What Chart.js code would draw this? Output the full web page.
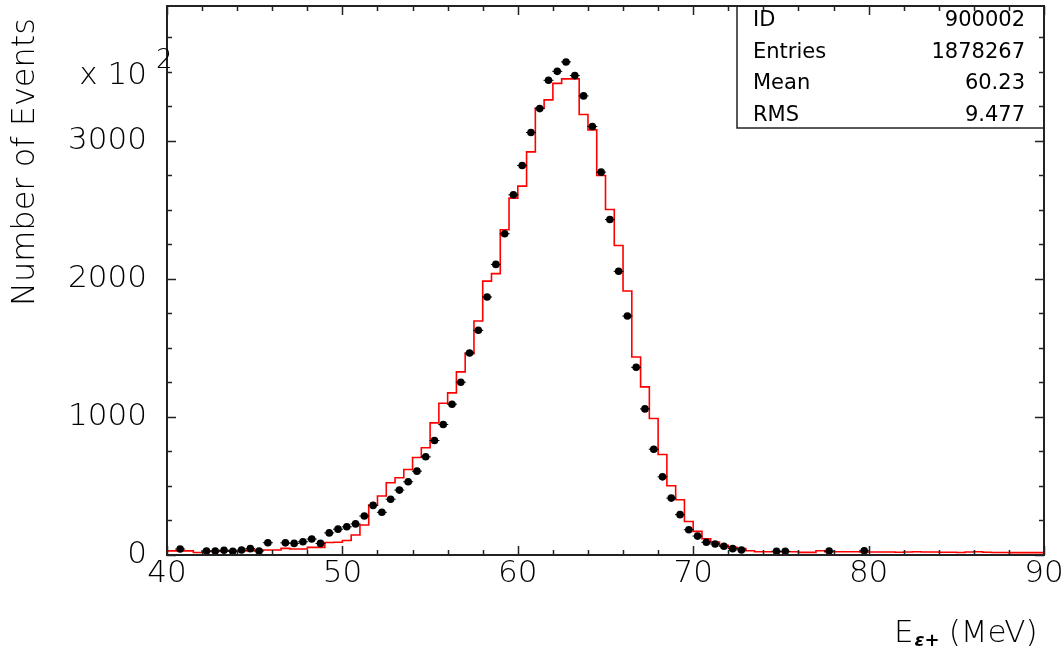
<!DOCTYPE html>
<html>
<head>
<meta charset="utf-8">
<script src="https://cdn.jsdelivr.net/npm/chart.js@4.4.1/dist/chart.umd.min.js"></script>
<style>
  html, body { margin: 0; padding: 0; background: #fff; }
  #wrap { width: 1062px; height: 654px; }
</style>
</head>
<body>
<div id="wrap"><canvas id="hist" width="1062" height="654"></canvas></div>
<script>
// histogram binning (E in MeV)
const binStart = 40;
const binWidth = 0.5;
const binCount = 100;

// data points (black), null = empty bin
const dataCounts = [
  null, 43, null, null, 29, 29, 34, 27, 36, 46,
  29, 89, null, 88, 84, 96, 116, 84, 160, 187,
  204, 225, 282, 359, 309, 404, 470, 530, 607, 711,
  829, 945, 1092, 1251, 1463, 1627, 1868, 2104, 2326, 2608,
  2820, 3059, 3232, 3437, 3502, 3570, 3471, 3324, 3102, 2772,
  2429, 2054, 1730, 1359, 1058, 766, 566, 412, 292, 183,
  137, 92, 80, 63, 46, 36, null, null, null, 27,
  27, null, null, null, null, 29, null, null, null, 31,
  null, null, null, null, null, null, null, null, null, null,
  null, null, null, null, null, null, null, null, null, null
];

// simulation (red histogram)
const mcCounts = [
  30, 30, 30, 18, 25, 25, 28, 28, 30, 32,
  36, 36, 36, 48, 43, 43, 55, 55, 90, 92,
  105, 145, 217, 361, 427, 523, 559, 619, 706, 776,
  957, 1099, 1174, 1326, 1458, 1694, 1983, 2037, 2355, 2584,
  2671, 2919, 3237, 3295, 3415, 3447, 3447, 3189, 3078, 2748,
  2502, 2241, 1911, 1434, 1217, 988, 728, 501, 400, 243,
  171, 118, 94, 70, 56, 46, 31, 24, 24, 24,
  24, 24, 19, 19, 31, 24, 24, 24, 24, 22,
  22, 22, 22, 20, 22, 24, 22, 22, 20, 20,
  18, 22, 24, 20, 18, 18, 17, 17, 17, 17
];

const xTicks = [40, 50, 60, 70, 80, 90];
const yTicks = [0, 1000, 2000, 3000];
const statsLabels = ['ID', 'Entries', 'Mean', 'RMS'];
const statsValues = ['900002', '1878267', '60.23', '9.477'];

const FONT = 'DejaVu Sans';
const INK = '#000';

const stepPts = [];
for (let i = 0; i < binCount; i++) {
  stepPts.push({ x: binStart + i * binWidth, y: mcCounts[i] });
}
stepPts.push({ x: binStart + binCount * binWidth, y: mcCounts[binCount - 1] });

const dotPts = [];
for (let i = 0; i < binCount; i++) {
  if (dataCounts[i] !== null) {
    dotPts.push({ x: binStart + (i + 0.5) * binWidth, y: dataCounts[i] });
  }
}

// frame, inward ticks, titles, stats box
const decorations = {
  id: 'decorations',
  afterDraw(chart) {
    const ctx = chart.ctx;
    const xs = chart.scales.x;
    const ys = chart.scales.y;
    const area = chart.chartArea;
    const L = area.left, R = area.right, T = area.top, B = area.bottom;

    ctx.save();
    ctx.strokeStyle = '#222';
    ctx.lineWidth = 1.5;
    ctx.beginPath();
    for (let v = 40; v <= 90; v += 2) {
      const px = Math.round(xs.getPixelForValue(v)) + 0.5;
      const len = (v % 10 === 0) ? 9 : 5;
      ctx.moveTo(px, B); ctx.lineTo(px, B - len);
      ctx.moveTo(px, T); ctx.lineTo(px, T + len);
    }
    for (let v = 0; v <= 3750; v += 250) {
      const py = Math.round(ys.getPixelForValue(v)) + 0.5;
      const len = (v % 1000 === 0) ? 9 : 5;
      ctx.moveTo(L, py); ctx.lineTo(L + len, py);
      ctx.moveTo(R, py); ctx.lineTo(R - len, py);
    }
    ctx.stroke();

    ctx.lineWidth = 2;
    ctx.strokeRect(L, T, R - L, B - T);

    // stats box
    const bx = 737;
    ctx.lineWidth = 1.5;
    ctx.strokeRect(bx, T, R - bx, 122);
    ctx.fillStyle = INK;
    ctx.font = '21px "' + FONT + '"';
    ctx.textBaseline = 'middle';
    statsLabels.forEach((lab, i) => {
      const yy = 21 + i * 31.5;
      ctx.textAlign = 'left';
      ctx.fillText(lab, bx + 16, yy);
      ctx.textAlign = 'right';
      ctx.fillText(statsValues[i], R - 19, yy);
    });

    // exponent label
    ctx.font = '200 31px "' + FONT + '"';
    ctx.textAlign = 'right';
    ctx.fillText('x 10', 147, 76);
    ctx.font = '200 26px "' + FONT + '"';
    ctx.textAlign = 'left';
    ctx.fillText('2', 156, 61);

    // y title
    ctx.save();
    ctx.translate(26, 162);
    ctx.rotate(-Math.PI / 2);
    ctx.textAlign = 'center';
    ctx.font = '200 32px "' + FONT + '"';
    ctx.fillText('Number of Events', 0, 0);
    ctx.restore();

    // x title
    ctx.textAlign = 'left';
    let x0 = 894;
    ctx.font = '200 31px "' + FONT + '"';
    ctx.fillText('E', x0, 634);
    x0 += ctx.measureText('E').width + 1;
    ctx.font = 'italic bold 18px "' + FONT + '"';
    ctx.fillText('\u03b5+', x0, 641);
    x0 += ctx.measureText('\u03b5+').width + 9;
    ctx.font = '200 31px "' + FONT + '"';
    ctx.fillText('(MeV)', x0, 634);
    ctx.restore();
  }
};

new Chart(document.getElementById('hist'), {
  type: 'scatter',
  data: {
    datasets: [
      {
        type: 'line',
        data: stepPts,
        stepped: true,
        borderColor: '#ff0000',
        borderWidth: 1.6,
        pointRadius: 0,
        fill: false,
        order: 3
      },
      {
        data: dotPts,
        pointStyle: 'line',
        pointRadius: 5,
        borderColor: '#000',
        borderWidth: 1,
        order: 2
      },
      {
        data: dotPts,
        pointStyle: 'circle',
        pointRadius: 3.8,
        backgroundColor: '#000',
        borderColor: '#000',
        borderWidth: 0,
        order: 1
      }
    ]
  },
  options: {
    responsive: false,
    animation: false,
    layout: { padding: { top: 6, right: 18, left: 0, bottom: 0 } },
    plugins: { legend: { display: false }, tooltip: { enabled: false } },
    scales: {
      x: {
        type: 'linear',
        min: 40,
        max: 90,
        grid: { display: false, drawTicks: false },
        border: { display: false },
        afterBuildTicks: s => { s.ticks = xTicks.map(v => ({ value: v })); },
        afterFit: s => { s.height = 99; s.paddingLeft = 0; s.paddingRight = 0; },
        ticks: {
          color: INK,
          padding: 0,
          font: { family: FONT, size: 31, weight: 200 },
          maxRotation: 0,
          callback: v => String(v)
        }
      },
      y: {
        type: 'linear',
        min: 0,
        max: 3975,
        grid: { display: false, drawTicks: false },
        border: { display: false },
        afterBuildTicks: s => { s.ticks = yTicks.map(v => ({ value: v })); },
        afterFit: s => { s.width = 167; s.paddingTop = 0; s.paddingBottom = 0; },
        ticks: {
          color: INK,
          padding: 20,
          font: { family: FONT, size: 31, weight: 200 },
          callback: v => String(v)
        }
      }
    }
  },
  plugins: [decorations]
});
</script>
</body>
</html>
